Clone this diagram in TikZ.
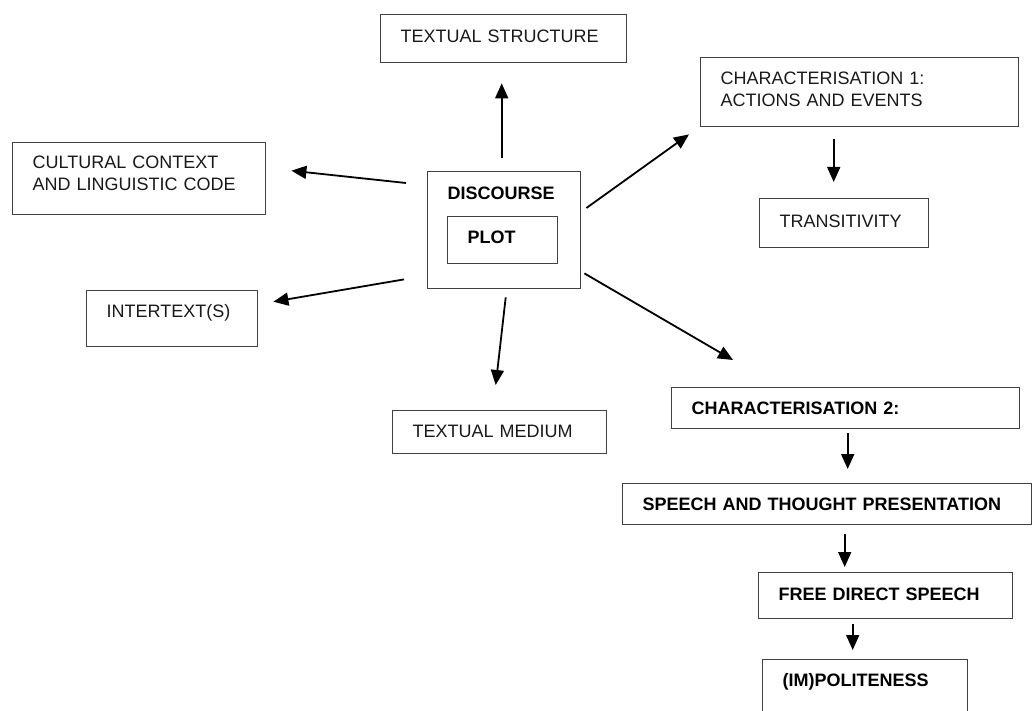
\documentclass[tikz,border=0pt]{standalone}
\usepackage{fontspec}
\setmainfont{Liberation Sans}
\usepackage{tikz}
\usetikzlibrary{arrows.meta}

\begin{document}
\begin{tikzpicture}[x=1pt,y=-1pt,
  box/.style={draw=black!75, line width=1.4pt, rectangle, anchor=north west, align=left,
    inner xsep=20pt, text height=13pt, font=\fontsize{18}{22}\selectfont, text=black!90},
  bbox/.style={box, font=\fontsize{18}{22}\selectfont\bfseries, text=black},
  arr/.style={-{Triangle[length=15pt,width=13pt]}, line width=1.8pt}]

\useasboundingbox (0,0) rectangle (1033,711);

% discourse and plot
\node[bbox, text width=113pt, inner ysep=14.5pt, text depth=75pt] (disc) at (427,171) {DISCOURSE};
\node[bbox, text width=70pt, inner ysep=13.5pt, text depth=7pt] (plot) at (447,216) {PLOT};

% boxes round it
\node[box, text width=206pt, inner ysep=14.5pt, text depth=6pt] (tstruct) at (380,14) {TEXTUAL STRUCTURE};
\node[box, text width=213pt, inner ysep=12.5pt, text depth=34pt] (cult) at (12,142) {CULTURAL CONTEXT\\AND LINGUISTIC CODE};
\node[box, text width=131pt, inner ysep=13.5pt, text depth=16pt] (inter) at (86,290) {INTERTEXT(S)};
\node[box, text width=174pt, inner ysep=13.5pt, text depth=3pt] (tmed) at (392,410) {TEXTUAL MEDIUM};
\node[box, text width=278pt, inner ysep=13.5pt, text depth=29pt] (char1) at (700,57) {CHARACTERISATION 1:\\ACTIONS AND EVENTS};
\node[box, text width=129pt, inner ysep=15.5pt, text depth=5pt] (trans) at (759,198) {TRANSITIVITY};

% chain on the right
\node[bbox, text width=308pt, inner ysep=13.5pt, text depth=1pt] (char2) at (671,387) {CHARACTERISATION 2:};
\node[bbox, text width=369pt, inner ysep=14pt, text depth=0pt] (speech) at (622,483) {SPEECH AND THOUGHT PRESENTATION};
\node[bbox, text width=214pt, inner ysep=14.5pt, text depth=4pt] (fds) at (758,572) {FREE DIRECT SPEECH};
\node[bbox, text width=165pt, inner ysep=13.5pt, text depth=30pt] (impol) at (762,659) {(IM)POLITENESS};

% arrows
\draw[arr] ([shift={(-2.5,-13)}]disc.north) -- ([shift={(-2,20)}]tstruct.south);
\draw[arr] ([shift={(-21,12)}]disc.north west) -- ([shift={(25,-8)}]cult.east);
\draw[arr] ([shift={(-23,-10)}]disc.south west) -- ([shift={(15,-17)}]inter.east);
\draw[arr] ([shift={(5,37)}]disc.north east) -- ([shift={(-11,7)}]char1.south west);
\draw[arr] ([shift={(1.5,8)}]disc.south) -- ([shift={(-4,-25)}]tmed.north);
\draw[arr] ([shift={(3,-16)}]disc.south east) -- ([shift={(62,-27)}]char2.north west);
\draw[arr] ([shift={(-26,12)}]char1.south) -- ([shift={(-10.5,-16)}]trans.north);
\draw[arr] ([shift={(2,4)}]char2.south) -- ([shift={(20.5,-14)}]speech.north);
\draw[arr] ([shift={(17.5,9)}]speech.south) -- ([shift={(-41,-5)}]fds.north);
\draw[arr] ([shift={(-33,5)}]fds.south) -- ([shift={(-12.5,-9)}]impol.north);

\end{tikzpicture}
\end{document}
